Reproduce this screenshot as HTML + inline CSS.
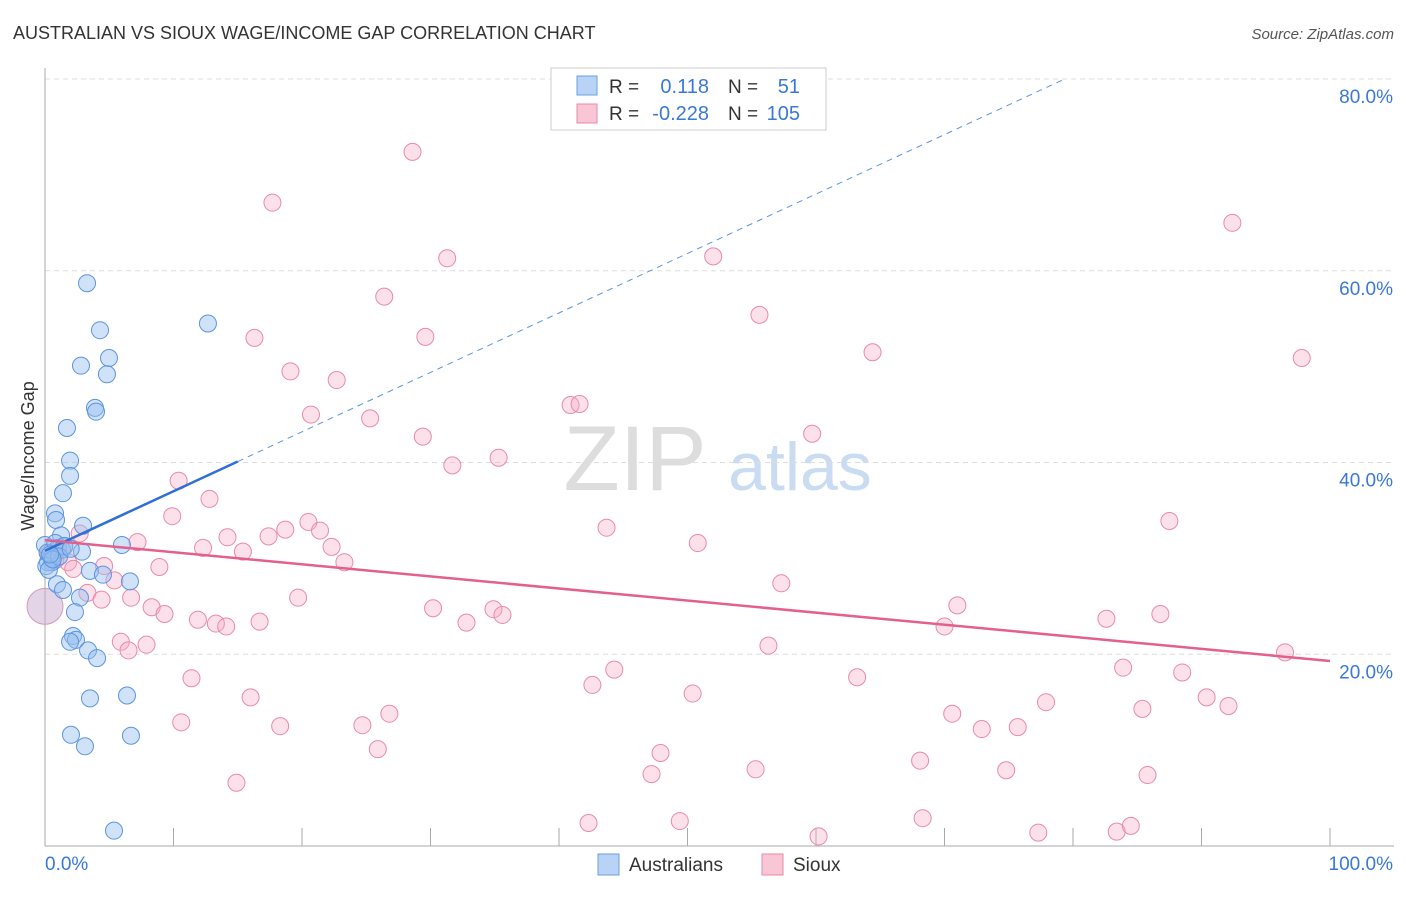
<!DOCTYPE html>
<html><head><meta charset="utf-8"><style>
body{margin:0;background:#fff;font-family:"Liberation Sans",sans-serif}
svg text{font-family:"Liberation Sans",sans-serif}
</style></head><body>
<svg width="1406" height="892" xmlns="http://www.w3.org/2000/svg">
<text x="13" y="39" font-size="18" fill="#333">AUSTRALIAN VS SIOUX WAGE/INCOME GAP CORRELATION CHART</text>
<text x="1394" y="39" font-size="15" fill="#555" font-style="italic" text-anchor="end">Source: ZipAtlas.com</text>
<text x="635" y="490" font-size="92" fill="#ddd" font-family="Liberation Serif" text-anchor="middle">ZIP</text>
<text x="800" y="490" font-size="68" fill="#c9dcf2" text-anchor="middle">atlas</text>
<g id="grid"></g>
<g id="axes"></g>
<g id="pts"></g>
<g id="trend"></g>
<text transform="translate(34,456) rotate(-90)" font-size="18" fill="#333" text-anchor="middle">Wage/Income Gap</text>
<g>
<rect x="551" y="68" width="275" height="62" fill="#fff" stroke="#ccc"/>
<rect x="577" y="76" width="20" height="19" fill="#b8d3f5" stroke="#6a9fe0"/>
<rect x="577" y="104" width="20" height="19" fill="#f9c6d6" stroke="#e88aa8"/>
<text x="609" y="93" font-size="19" fill="#333">R =</text><text x="709" y="93" font-size="20" fill="#3a78d8" text-anchor="end">0.118</text>
<text x="728" y="93" font-size="19" fill="#333">N =</text><text x="800" y="93" font-size="20" fill="#3a78d8" text-anchor="end">51</text>
<text x="609" y="120" font-size="19" fill="#333">R =</text><text x="709" y="120" font-size="20" fill="#3a78d8" text-anchor="end">-0.228</text>
<text x="728" y="120" font-size="19" fill="#333">N =</text><text x="800" y="120" font-size="20" fill="#3a78d8" text-anchor="end">105</text>
</g>
<g>
<rect x="598" y="854" width="21" height="21" fill="#b8d3f5" stroke="#6a9fe0"/>
<text x="629" y="871" font-size="19" fill="#333">Australians</text>
<rect x="762" y="854" width="21" height="21" fill="#f9c6d6" stroke="#e88aa8"/>
<text x="793" y="871" font-size="19" fill="#333">Sioux</text>
</g>
</svg>
<script>
const yTicks=[20,40,60,80];
const yTickLabels=["20.0%","40.0%","60.0%","80.0%"];
const xEndLabels=["0.0%","100.0%"];
const blueX=[3.27,4.28,2.80,4.98,4.82,12.68,3.89,3.97,1.71,1.95,1.95,1.40,0.78,0.86,2.96,1.25,0,1.01,1.32,2.88,0.54,0.23,3.50,4.51,6.61,5.99,0.93,1.40,2.72,2.33,2.18,2.41,1.95,3.35,4.05,3.50,6.38,2.02,6.69,3.11,5.37,0.5,0.2,0.8,1.5,0.1,0.3,1.1,0.6,2.0,0.4];
const blueY=[58.7,53.8,50.1,50.9,49.2,54.5,45.7,45.3,43.6,40.2,38.6,36.8,34.7,34.0,33.4,32.4,31.4,31.1,30.9,30.7,29.6,29.6,28.7,28.3,27.6,31.4,27.3,26.7,25.9,24.4,21.9,21.5,21.3,20.4,19.6,15.4,15.7,11.6,11.5,10.4,1.6,30.1,30.6,31.6,31.3,29.2,28.8,30.2,29.9,31.0,30.4];
const pinkX=[28.6,17.7,31.3,52.0,92.4,26.4,55.6,16.3,29.6,64.4,97.8,19.1,22.7,20.7,25.3,40.9,41.6,29.4,59.7,31.7,35.3,10.4,12.8,9.9,43.7,87.5,20.5,18.7,21.4,14.2,17.4,22.3,50.8,12.3,15.4,23.3,2.7,7.2,4.6,8.9,1.0,1.8,5.4,57.3,3.3,4.4,6.7,19.7,8.3,9.3,30.2,34.9,35.6,71.0,82.6,86.8,70.0,11.9,13.3,14.1,16.7,32.8,5.9,6.5,7.9,56.3,96.5,44.3,83.9,88.5,11.4,63.2,42.6,16.0,50.4,77.9,90.4,92.1,85.4,10.6,18.3,24.7,26.8,70.6,72.9,75.7,47.9,25.9,68.1,47.2,55.3,74.8,85.8,14.9,42.3,49.4,68.3,60.2,77.3,83.4,84.5,0.3,0.8,1.5,2.2];
const pinkY=[72.4,67.1,61.3,61.5,65.0,57.3,55.4,53.0,53.1,51.5,50.9,49.5,48.6,45.0,44.6,46.0,46.1,42.7,43.0,39.7,40.5,38.1,36.2,34.4,33.2,33.9,33.8,33.0,32.9,32.2,32.3,31.2,31.6,31.1,30.7,29.6,32.6,31.7,29.2,29.1,30.9,29.6,27.7,27.4,26.4,25.7,25.9,25.9,24.9,24.2,24.8,24.7,24.1,25.1,23.7,24.2,22.9,23.6,23.2,22.9,23.4,23.3,21.3,20.4,21.0,20.9,20.2,18.4,18.6,18.1,17.5,17.6,16.8,15.5,15.9,15.0,15.5,14.6,14.3,12.9,12.5,12.6,13.8,13.8,12.2,12.4,9.7,10.1,8.9,7.5,8.0,7.9,7.4,6.6,2.4,2.6,2.9,1.0,1.4,1.5,2.1,30.5,29.8,31.2,28.9];
const bigPoint=[0,25];
const blueTrend=[30.8,0.62];
const pinkTrend=[31.9,-0.126];
const NS="http://www.w3.org/2000/svg";
const X=v=>45+v*12.85, Y=v=>846-v*9.5875;
function mk(t,a,p){const e=document.createElementNS(NS,t);for(const k in a)e.setAttribute(k,a[k]);document.getElementById(p).appendChild(e);return e;}
yTicks.forEach((t,i)=>{
 const g=mk('line',{x1:45,x2:1394,y1:Y(t),y2:Y(t),stroke:'#ddd','stroke-dasharray':'5,4'},'grid');
 
 
 const tx=mk('text',{x:1393,y:Y(t)+24,'font-size':19,fill:'#3a78d8','text-anchor':'end'},'axes');
 tx.textContent=yTickLabels[i];
 
 
});
const ax=mk('line',{x1:45,x2:45,y1:68,y2:846,stroke:'#aaa'},'axes');


const bx=mk('line',{x1:45,x2:1394,y1:846,y2:846,stroke:'#aaa'},'axes');


for(let i=1;i<=10;i++){const t=mk('line',{x1:X(i*10),x2:X(i*10),y1:828,y2:846,stroke:'#aaa'},'axes');
 
 }
[[0,'start'],[100,'end']].forEach((d,i)=>{const t=mk('text',{x:i?1393:45,y:870,'font-size':19,fill:'#3a78d8','text-anchor':d[1]},'axes');t.textContent=xEndLabels[i];
 
 });
const bp=mk('circle',{cx:X(bigPoint[0]),cy:Y(bigPoint[1]),r:18,fill:'rgba(200,170,210,0.5)',stroke:'#d39ab8'},'pts');


pinkX.forEach((x,i)=>{const c=mk('circle',{cx:X(x),cy:Y(pinkY[i]),r:8.5,fill:'rgba(245,170,195,0.35)',stroke:'#e98aaa','stroke-width':1},'pts');
 
 });
blueX.forEach((x,i)=>{const c=mk('circle',{cx:X(x),cy:Y(blueY[i]),r:8.5,fill:'rgba(150,190,240,0.45)',stroke:'#5b94de','stroke-width':1},'pts');
 
 });
const bl=mk('line',{x1:X(0),y1:Y(blueTrend[0]),x2:X(15),y2:Y(blueTrend[0]+15*blueTrend[1]),stroke:'#2f6fd6','stroke-width':2.5},'trend');


const xe=(80-blueTrend[0])/blueTrend[1];
const bd=mk('line',{x1:X(15),y1:Y(blueTrend[0]+15*blueTrend[1]),x2:X(xe),y2:Y(80),stroke:'#5b94de','stroke-width':1,'stroke-dasharray':'6,5'},'trend');


const pl=mk('line',{x1:X(0),y1:Y(pinkTrend[0]),x2:X(100),y2:Y(pinkTrend[0]+100*pinkTrend[1]),stroke:'#e3608e','stroke-width':2.5},'trend');


</script>
</body></html>
